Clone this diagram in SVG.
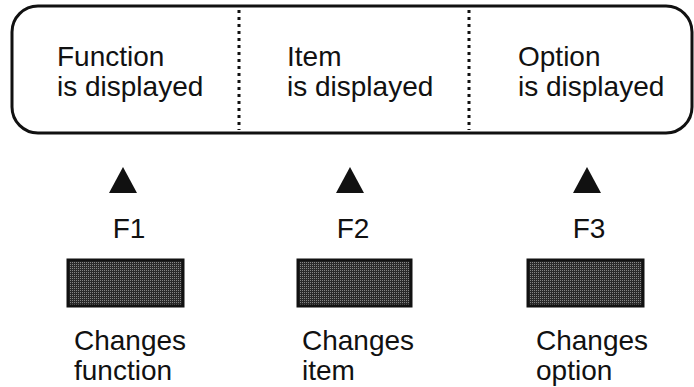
<svg xmlns="http://www.w3.org/2000/svg" width="694" height="387" viewBox="0 0 694 387">
<defs>
<pattern id="dots" width="2" height="2" patternUnits="userSpaceOnUse">
<rect width="2" height="2" fill="#2a2a2a"/>
<rect width="1" height="1" fill="#858585"/>
</pattern>
</defs>
<style>
text{font-family:"Liberation Sans",Arial,sans-serif;fill:#111;font-size:28px}
.frame{fill:none;stroke:#111;stroke-width:3}
.div{stroke:#111;stroke-width:3;stroke-dasharray:3 4}
.btn{fill:url(#dots);stroke:#111;stroke-width:3}
.tri{fill:#111}
</style>
<g id="display">
<rect class="frame" x="12" y="6" width="680" height="127" rx="26" ry="26"/>
<text x="57" y="66">Function</text>
<text x="57" y="96">is displayed</text>
<text x="287" y="66">Item</text>
<text x="287" y="96">is displayed</text>
<text x="518" y="66">Option</text>
<text x="518" y="96">is displayed</text>
</g>
<g id="connectors">
<line class="div" x1="239" y1="10" x2="239" y2="130"/>
<line class="div" x1="469" y1="10" x2="469" y2="130"/>
</g>
<g id="f1">
<polygon class="tri" points="123,167 109,193 137,193"/>
<text x="129" y="238" text-anchor="middle">F1</text>
<rect class="btn" x="68" y="260" width="115" height="46"/>
<text x="74" y="350">Changes</text>
<text x="74" y="380">function</text>
</g>
<g id="f2">
<polygon class="tri" points="350,167 336,193 364,193"/>
<text x="353" y="238" text-anchor="middle">F2</text>
<rect class="btn" x="298" y="260" width="113" height="46"/>
<text x="302" y="350">Changes</text>
<text x="302" y="380">item</text>
</g>
<g id="f3">
<polygon class="tri" points="587,167 573,193 601,193"/>
<text x="589" y="238" text-anchor="middle">F3</text>
<rect class="btn" x="528" y="260" width="115" height="46"/>
<text x="536" y="350">Changes</text>
<text x="536" y="380">option</text>
</g>
</svg>
